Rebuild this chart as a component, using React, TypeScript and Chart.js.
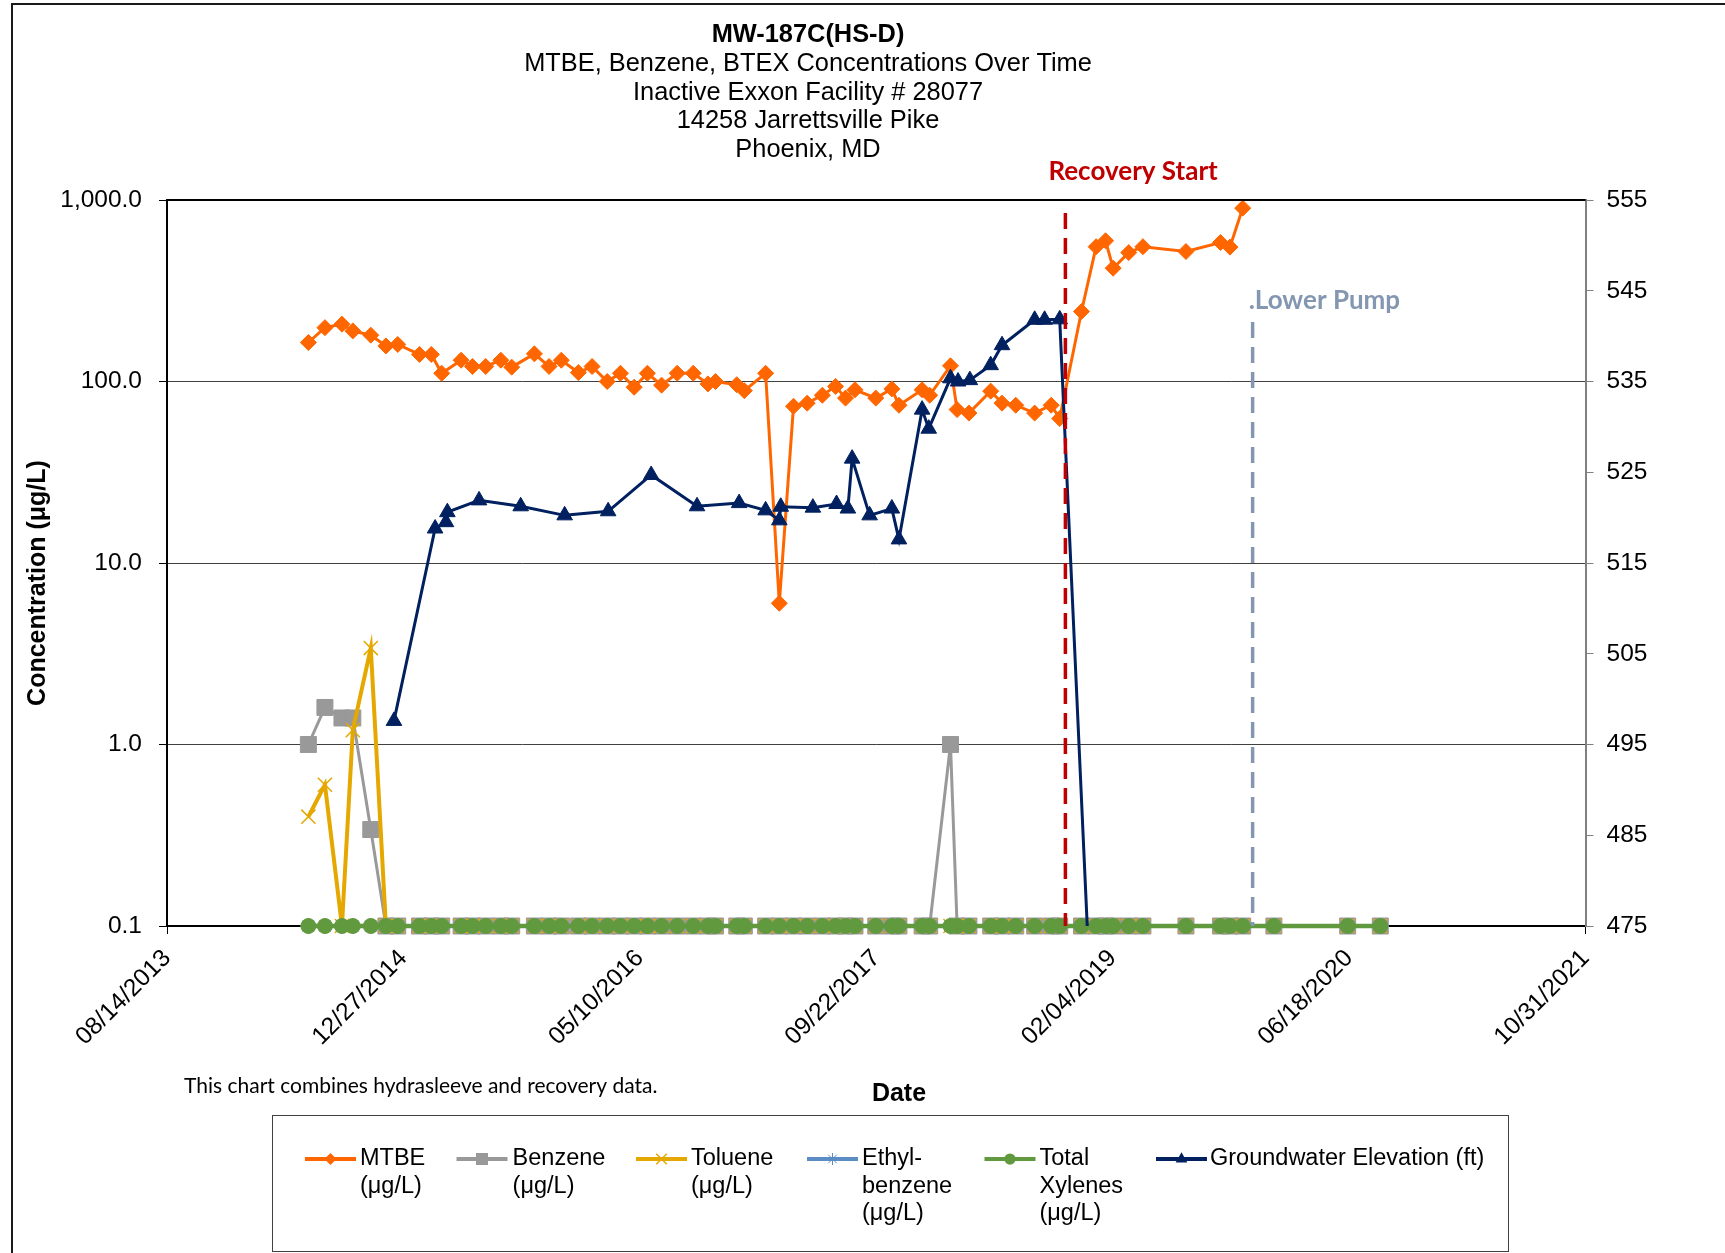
import React, { useEffect, useRef } from 'react';
import { Chart, registerables } from 'chart.js';

Chart.register(...registerables);

// ---------- DATA ----------
const titleLines = [
  'MW-187C(HS-D)',
  'MTBE, Benzene, BTEX Concentrations Over Time',
  'Inactive Exxon Facility # 28077',
  '14258 Jarrettsville Pike',
  'Phoenix, MD',
];
const yAxisTitle = 'Concentration (μg/L)';
const xAxisTitle = 'Date';
const noteText = 'This chart combines hydrasleeve and recovery data.';

const xTickDates = ['08/14/2013', '12/27/2014', '05/10/2016', '09/22/2017', '02/04/2019', '06/18/2020', '10/31/2021'];
const yLeftTicks = [0.1, 1, 10, 100, 1000];
const yRightTicks = [475, 485, 495, 505, 515, 525, 535, 545, 555];

const sampleDates = [
  '06/09/2014', '07/14/2014', '08/19/2014', '09/11/2014', '10/19/2014', '11/20/2014', '12/15/2014', '01/30/2015', '02/24/2015', '03/18/2015',
  '04/28/2015', '05/22/2015', '06/19/2015', '07/21/2015', '08/13/2015', '09/30/2015', '10/31/2015', '11/26/2015', '01/01/2016', '01/30/2016',
  '03/02/2016', '03/30/2016', '04/28/2016', '05/26/2016', '06/25/2016', '07/28/2016', '08/31/2016', '10/01/2016', '10/17/2016', '12/01/2016',
  '12/17/2016', '01/31/2017', '03/01/2017', '03/31/2017', '04/29/2017', '05/31/2017', '06/28/2017', '07/19/2017', '08/08/2017', '09/21/2017',
  '10/25/2017', '11/09/2017', '12/28/2017', '01/13/2018', '02/26/2018', '03/12/2018', '04/06/2018', '05/22/2018', '06/15/2018', '07/14/2018',
  '08/23/2018', '09/27/2018', '10/15/2018', '11/30/2018', '12/31/2018', '01/20/2019', '02/05/2019', '03/10/2019', '04/09/2019', '07/09/2019',
  '09/20/2019', '10/10/2019', '11/06/2019', '01/11/2020', '06/15/2020', '08/23/2020',
];

const mtbe = [
  164, 198, 207, 190, 180, 157, 160, 141, 141, 111,
  131, 121, 121, 131, 120, 142, 121, 131, 112, 121,
  100, 111, 93, 111, 95.5, 111, 111, 97, 100, 96,
  89, 111, 6.0, 73, 76, 84, 94, 81, 90, 81,
  91, 74, 90, 84, 122, 70, 67, 88.5, 76, 74,
  67, 74, 62.5, 243, 553, 596, 421, 513, 553, 520,
  583, 550, 902,
];

const benzene = [
  1.0, 1.6, 1.4, 1.4, 0.34, 0.1, 0.1, 0.1, 0.1, 0.1,
  0.1, 0.1, 0.1, 0.1, 0.1, 0.1, 0.1, 0.1, 0.1, 0.1,
  0.1, 0.1, 0.1, 0.1, 0.1, 0.1, 0.1, 0.1, 0.1, 0.1,
  0.1, 0.1, 0.1, 0.1, 0.1, 0.1, 0.1, 0.1, 0.1, 0.1,
  0.1, 0.1, 0.1, 0.1, 1.0, 0.1, 0.1, 0.1, 0.1, 0.1,
  0.1, 0.1, 0.1, 0.1, 0.1, 0.1, 0.1, 0.1, 0.1, 0.1,
  0.1, 0.1, 0.1, 0.1, 0.1, 0.1,
];

const toluene = [
  0.4, 0.6, 0.1, 1.2, 3.4, 0.1, 0.1, 0.1, 0.1, 0.1,
  0.1, 0.1, 0.1, 0.1, 0.1, 0.1, 0.1, 0.1, 0.1, 0.1,
  0.1, 0.1, 0.1, 0.1, 0.1, 0.1, 0.1, 0.1, 0.1, 0.1,
  0.1, 0.1, 0.1, 0.1, 0.1, 0.1, 0.1, 0.1, 0.1, 0.1,
  0.1, 0.1, 0.1, 0.1, 0.1, 0.1, 0.1, 0.1, 0.1, 0.1,
  0.1, 0.1, 0.1, 0.1, 0.1, 0.1, 0.1, 0.1, 0.1, 0.1,
  0.1, 0.1, 0.1, 0.1, 0.1, 0.1,
];

const ethylbenzene = [
  0.1, 0.1, 0.1, 0.1, 0.1, 0.1, 0.1, 0.1, 0.1, 0.1,
  0.1, 0.1, 0.1, 0.1, 0.1, 0.1, 0.1, 0.1, 0.1, 0.1,
  0.1, 0.1, 0.1, 0.1, 0.1, 0.1, 0.1, 0.1, 0.1, 0.1,
  0.1, 0.1, 0.1, 0.1, 0.1, 0.1, 0.1, 0.1, 0.1, 0.1,
  0.1, 0.1, 0.1, 0.1, 0.1, 0.1, 0.1, 0.1, 0.1, 0.1,
  0.1, 0.1, 0.1, 0.1, 0.1, 0.1, 0.1, 0.1, 0.1, 0.1,
  0.1, 0.1, 0.1, 0.1, 0.1, 0.1,
];

const totalXylenes = [
  0.1, 0.1, 0.1, 0.1, 0.1, 0.1, 0.1, 0.1, 0.1, 0.1,
  0.1, 0.1, 0.1, 0.1, 0.1, 0.1, 0.1, 0.1, 0.1, 0.1,
  0.1, 0.1, 0.1, 0.1, 0.1, 0.1, 0.1, 0.1, 0.1, 0.1,
  0.1, 0.1, 0.1, 0.1, 0.1, 0.1, 0.1, 0.1, 0.1, 0.1,
  0.1, 0.1, 0.1, 0.1, 0.1, 0.1, 0.1, 0.1, 0.1, 0.1,
  0.1, 0.1, 0.1, 0.1, 0.1, 0.1, 0.1, 0.1, 0.1, 0.1,
  0.1, 0.1, 0.1, 0.1, 0.1, 0.1,
];

const gwDates = [
  '12/07/2014', '03/04/2015', '03/27/2015', '03/30/2015', '06/05/2015', '09/01/2015', '12/03/2015', '03/04/2016', '06/03/2016', '09/08/2016',
  '12/06/2016', '01/31/2017', '03/01/2017', '03/04/2017', '05/11/2017', '06/30/2017', '07/24/2017', '08/02/2017', '09/08/2017', '10/25/2017',
  '11/09/2017', '12/28/2017', '01/11/2018', '02/26/2018', '03/14/2018', '04/08/2018', '05/22/2018', '06/15/2018', '08/23/2018', '09/13/2018',
  '10/15/2018', '01/30/2020',
];
const gwElevation = [
  497.6, 518.8, 519.5, 520.6, 521.9, 521.25, 520.25, 520.7, 524.7, 521.25,
  521.6, 520.8, 519.7, 521.2, 521.1, 521.5, 521.0, 526.5, 520.25, 521.0,
  517.6, 531.9, 529.8, 535.35, 535.0, 535.15, 536.8, 539.0, 541.8, 541.8,
  541.85, 0,
];

const seriesLabels = [
  ['MTBE', '(μg/L)'],
  ['Benzene', '(μg/L)'],
  ['Toluene', '(μg/L)'],
  ['Ethyl-', 'benzene', '(μg/L)'],
  ['Total', 'Xylenes', '(μg/L)'],
  ['Groundwater Elevation (ft)'],
];
const seriesColors = ['#FF6600', '#999999', '#E5A800', '#5B8CC4', '#619A3E', '#002060'];

const eventLabels = ['Recovery Start', '.Lower Pump'];
const eventDates = ['10/27/2018', '11/27/2019'];
const eventColors = ['#C00000', '#8497B0'];

// ---------- HELPERS ----------
const FONT = '"Liberation Sans", Arial, Helvetica, sans-serif';
const CAL = 'Lato, "Open Sans", sans-serif';
const W = 1725;
const H = 1253;

const toSerial = (s: string) => {
  const [m, d, y] = s.split('/').map(Number);
  return Date.UTC(y, m - 1, d) / 86400000 + 25569;
};
const fmtDate = (serial: number) => {
  const dt = new Date(Math.round((serial - 25569) * 86400000));
  const mm = String(dt.getUTCMonth() + 1).padStart(2, '0');
  const dd = String(dt.getUTCDate()).padStart(2, '0');
  return `${mm}/${dd}/${dt.getUTCFullYear()}`;
};
const pts = (dates: string[], vals: number[]) => vals.map((v, i) => ({ x: toSerial(dates[i]), y: v }));

function drawMarker(ctx: CanvasRenderingContext2D, style: string, x: number, y: number, r: number, color: string, lw: number) {
  ctx.save();
  ctx.fillStyle = color;
  ctx.strokeStyle = color;
  ctx.lineWidth = lw;
  ctx.setLineDash([]);
  ctx.beginPath();
  const d = r * Math.SQRT1_2;
  switch (style) {
    case 'rectRot':
      ctx.moveTo(x - r, y); ctx.lineTo(x, y - r); ctx.lineTo(x + r, y); ctx.lineTo(x, y + r); ctx.closePath(); ctx.fill();
      break;
    case 'rect':
      ctx.rect(x - d, y - d, 2 * d, 2 * d); ctx.fill();
      break;
    case 'circle':
      ctx.arc(x, y, r, 0, Math.PI * 2); ctx.fill();
      break;
    case 'triangle':
      ctx.moveTo(x, y - r);
      ctx.lineTo(x + r * Math.sin((2 * Math.PI) / 3), y - r * Math.cos((2 * Math.PI) / 3));
      ctx.lineTo(x + r * Math.sin((4 * Math.PI) / 3), y - r * Math.cos((4 * Math.PI) / 3));
      ctx.closePath(); ctx.fill();
      break;
    case 'crossRot':
      ctx.moveTo(x - d, y - d); ctx.lineTo(x + d, y + d); ctx.moveTo(x + d, y - d); ctx.lineTo(x - d, y + d); ctx.stroke();
      break;
    case 'star':
      ctx.moveTo(x - d, y - d); ctx.lineTo(x + d, y + d); ctx.moveTo(x + d, y - d); ctx.lineTo(x - d, y + d);
      ctx.moveTo(x, y - r); ctx.lineTo(x, y + r); ctx.moveTo(x - r, y); ctx.lineTo(x + r, y); ctx.stroke();
      break;
  }
  ctx.restore();
}

const decorPlugin = {
  id: 'decor',
  beforeDraw(chart: any) {
    const ctx = chart.ctx as CanvasRenderingContext2D;
    ctx.save();
    ctx.fillStyle = '#ffffff';
    ctx.fillRect(0, 0, chart.width, chart.height);
    ctx.strokeStyle = '#1a1a1a';
    ctx.lineWidth = 2;
    ctx.strokeRect(12, 4, chart.width + 100, chart.height + 100);
    ctx.restore();
  },
  afterDatasetsDraw(chart: any) {
    const ctx = chart.ctx as CanvasRenderingContext2D;
    const { left, right, top, bottom } = chart.chartArea;
    ctx.save();
    ctx.strokeStyle = '#000';
    ctx.lineWidth = 2;
    ctx.beginPath();
    ctx.moveTo(left, top);
    ctx.lineTo(right, top);
    ctx.stroke();
    const tops = [213, 322];
    eventDates.forEach((d, i) => {
      const x = chart.scales.x.getPixelForValue(toSerial(d));
      ctx.strokeStyle = eventColors[i];
      ctx.lineWidth = 3.5;
      ctx.setLineDash([16, 9]);
      ctx.beginPath();
      ctx.moveTo(x, tops[i]);
      ctx.lineTo(x, bottom);
      ctx.stroke();
    });
    ctx.restore();
  },
  afterDraw(chart: any) {
    const ctx = chart.ctx as CanvasRenderingContext2D;
    ctx.save();
    ctx.fillStyle = '#000';
    ctx.textAlign = 'center';
    ctx.textBaseline = 'middle';
    ctx.font = `bold 25.4px ${FONT}`;
    ctx.fillText(titleLines[0], 808, 35);
    ctx.font = `25.4px ${FONT}`;
    titleLines.slice(1).forEach((t, i) => ctx.fillText(t, 808, 64 + i * 28.7));

    ctx.font = `bold 25px ${FONT}`;
    ctx.fillText(xAxisTitle, 899, 1094);
    ctx.save();
    ctx.translate(38, 583);
    ctx.rotate(-Math.PI / 2);
    ctx.fillText(yAxisTitle, 0, 0);
    ctx.restore();

    ctx.textAlign = 'left';
    ctx.font = `21px ${CAL}`;
    ctx.fillText(noteText, 184, 1086);

    const offs = [-17, -4];
    const ys = [172, 301];
    ctx.font = `bold 26px ${CAL}`;
    eventLabels.forEach((t, i) => {
      const x = chart.scales.x.getPixelForValue(toSerial(eventDates[i]));
      ctx.fillStyle = eventColors[i];
      ctx.fillText(t, x + offs[i], ys[i]);
    });

    ctx.strokeStyle = '#404040';
    ctx.lineWidth = 1;
    ctx.strokeRect(272.5, 1115.5, 1236, 136);
    const lineX = [305, 456.5, 636, 807, 984.5, 1156];
    const textX = [360, 512.6, 691, 862, 1039.5, 1210];
    const ly = 1159;
    chart.data.datasets.forEach((ds: any, i: number) => {
      ctx.strokeStyle = ds.borderColor;
      ctx.lineWidth = 4;
      ctx.setLineDash([]);
      ctx.beginPath();
      ctx.moveTo(lineX[i], ly);
      ctx.lineTo(lineX[i] + 51, ly);
      ctx.stroke();
      drawMarker(ctx, ds.pointStyle, lineX[i] + 25.5, ly, ds.pointRadius * 0.75, ds.borderColor, ds.pointBorderWidth);
      ctx.fillStyle = '#000';
      ctx.font = `23.5px ${FONT}`;
      ctx.textAlign = 'left';
      seriesLabels[i].forEach((t, j) => ctx.fillText(t, textX[i], ly + j * 27.5));
    });
    ctx.restore();
  },
};

export default function App() {
  const ref = useRef<HTMLCanvasElement | null>(null);

  useEffect(() => {
    if (!ref.current) return;
    Chart.defaults.font.family = FONT;
    Chart.defaults.font.size = 24.5;
    Chart.defaults.color = '#000';

    const chart = new Chart(ref.current, {
      type: 'line',
      data: {
        datasets: [
          {
            label: seriesLabels[0].join(' '), data: pts(sampleDates, mtbe), yAxisID: 'y', order: 5,
            borderColor: seriesColors[0], backgroundColor: seriesColors[0], borderWidth: 3,
            pointStyle: 'rectRot', pointRadius: 8, pointBorderWidth: 1, clip: false,
          },
          {
            label: seriesLabels[1].join(' '), data: pts(sampleDates, benzene), yAxisID: 'y', order: 4,
            borderColor: seriesColors[1], backgroundColor: seriesColors[1], borderWidth: 3,
            pointStyle: 'rect', pointRadius: 11.3, pointBorderWidth: 1, clip: false,
          },
          {
            label: seriesLabels[2].join(' '), data: pts(sampleDates, toluene), yAxisID: 'y', order: 3,
            borderColor: seriesColors[2], backgroundColor: seriesColors[2], borderWidth: 4,
            pointStyle: 'crossRot', pointRadius: 10, pointBorderWidth: 1.5, clip: false,
          },
          {
            label: seriesLabels[3].join(' '), data: pts(sampleDates, ethylbenzene), yAxisID: 'y', order: 2,
            borderColor: seriesColors[3], backgroundColor: seriesColors[3], borderWidth: 3,
            pointStyle: 'star', pointRadius: 8, pointBorderWidth: 1, clip: false,
          },
          {
            label: seriesLabels[4].join(' '), data: pts(sampleDates, totalXylenes), yAxisID: 'y', order: 1,
            borderColor: seriesColors[4], backgroundColor: seriesColors[4], borderWidth: 4.5,
            pointStyle: 'circle', pointRadius: 7.5, pointBorderWidth: 1, clip: false,
          },
          {
            label: seriesLabels[5].join(' '), data: pts(gwDates, gwElevation), yAxisID: 'y1', order: 0,
            borderColor: seriesColors[5], backgroundColor: seriesColors[5], borderWidth: 3,
            pointStyle: 'triangle', pointRadius: 9, pointBorderWidth: 1,
          },
        ],
      },
      options: {
        responsive: false,
        maintainAspectRatio: false,
        animation: false,
        devicePixelRatio: 1,
        events: [],
        layout: { padding: { top: 200, left: 0, right: 0, bottom: 0 } },
        plugins: { legend: { display: false }, title: { display: false }, tooltip: { enabled: false } },
        elements: { line: { tension: 0 } },
        scales: {
          x: {
            type: 'linear',
            min: toSerial(xTickDates[0]),
            max: toSerial(xTickDates[xTickDates.length - 1]),
            afterBuildTicks: (s: any) => { s.ticks = xTickDates.map((d) => ({ value: toSerial(d) })); },
            afterFit: (s: any) => { s.height = H - 926; },
            ticks: {
              autoSkip: false, maxRotation: 45, minRotation: 45, padding: 10, color: '#000',
              font: { size: 24.5 }, callback: (v: any) => fmtDate(Number(v)),
            },
            grid: { drawOnChartArea: false, drawTicks: true, tickLength: 8, tickColor: '#000' },
            border: { display: true, color: '#000', width: 2 },
          },
          y: {
            type: 'logarithmic',
            position: 'left',
            min: 0.1,
            max: 1000,
            afterBuildTicks: (s: any) => { s.ticks = yLeftTicks.map((v) => ({ value: v })); },
            afterFit: (s: any) => { s.width = 167; },
            ticks: {
              padding: 17, color: '#000', font: { size: 24.5 },
              callback: (v: any) => Number(v).toLocaleString('en-US', { minimumFractionDigits: 1, maximumFractionDigits: 1 }),
            },
            grid: { color: '#404040', lineWidth: 1, drawTicks: true, tickLength: 8, tickColor: '#000' },
            border: { color: '#000', width: 2 },
          },
          y1: {
            type: 'linear',
            position: 'right',
            min: 475,
            max: 555,
            afterBuildTicks: (s: any) => { s.ticks = yRightTicks.map((v) => ({ value: v })); },
            afterFit: (s: any) => { s.width = W - 1585.5; },
            ticks: { padding: 13, color: '#000', font: { size: 24.5 }, callback: (v: any) => String(v) },
            grid: { drawOnChartArea: false, drawTicks: true, tickLength: 8, tickColor: '#808080' },
            border: { color: '#808080', width: 2 },
          },
        },
      } as any,
      plugins: [decorPlugin],
    });
    return () => chart.destroy();
  }, []);

  return (
    <div style={{ position: 'absolute', left: 0, top: 0, width: W, height: H, background: '#fff', overflow: 'hidden' }}>
      <canvas ref={ref} width={W} height={H} style={{ display: 'block', width: W, height: H }} />
    </div>
  );
}
